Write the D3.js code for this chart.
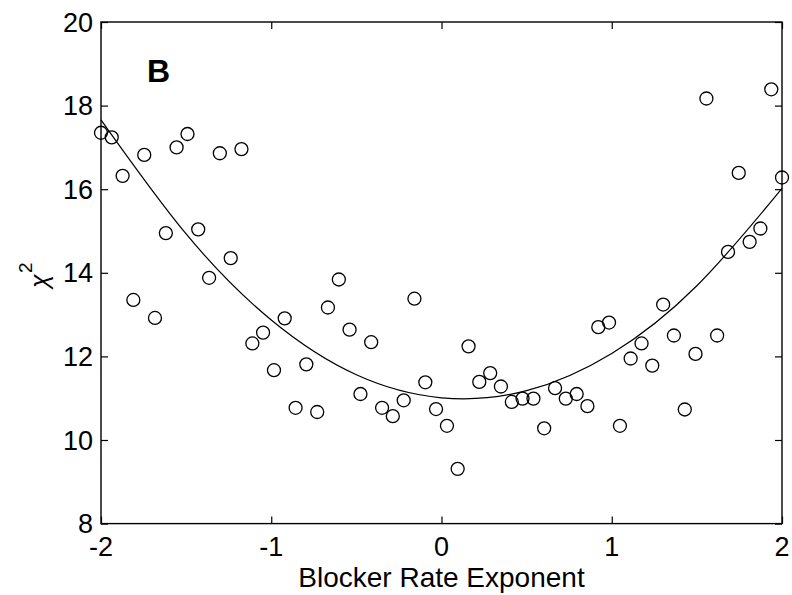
<!DOCTYPE html>
<html>
<head>
<meta charset="utf-8">
<script src="https://cdn.jsdelivr.net/npm/d3@7"></script>
<style>
  html, body { margin: 0; padding: 0; background: #fff; }
  svg { display: block; }
  text { font-family: Arial, "Liberation Sans", Helvetica, sans-serif; fill: #000; }
</style>
</head>
<body>
<svg id="chart" width="792" height="595"></svg>
<script>
// Blocker rate exponent (x) for each run
const exponents = [
  -2.000, -1.937, -1.873, -1.810, -1.746, -1.683, -1.619, -1.556,
  -1.492, -1.429, -1.365, -1.302, -1.238, -1.175, -1.111, -1.048,
  -0.984, -0.921, -0.857, -0.794, -0.730, -0.667, -0.603, -0.540,
  -0.476, -0.413, -0.349, -0.286, -0.222, -0.159, -0.095, -0.032,
   0.032,  0.095,  0.159,  0.222,  0.286,  0.349,  0.413,  0.476,
   0.540,  0.603,  0.667,  0.730,  0.794,  0.857,  0.921,  0.984,
   1.048,  1.111,  1.175,  1.238,  1.302,  1.365,  1.429,  1.492,
   1.556,  1.619,  1.683,  1.746,  1.810,  1.873,  1.937,  2.000
];

// chi-square value for each run
const chiSquare = [
  17.35, 17.24, 16.32, 13.35, 16.82, 12.92, 14.95, 17.00,
  17.32, 15.04, 13.88, 16.86, 14.35, 16.96, 12.31, 12.57,
  11.67, 12.91, 10.77, 11.81, 10.67, 13.17, 13.84, 12.64,
  11.10, 12.34, 10.77, 10.57, 10.95, 13.38, 11.38, 10.74,
  10.34,  9.31, 12.24, 11.39, 11.60, 11.28, 10.91, 10.99,
  10.99, 10.28, 11.24, 10.99, 11.10, 10.81, 12.70, 12.81,
  10.34, 11.95, 12.31, 11.78, 13.24, 12.50, 10.73, 12.06,
  18.17, 12.50, 14.50, 16.39, 14.74, 15.06, 18.39, 16.28
];

// Smooth trend line through the data
const trendX = [-2.0, -1.5, -1.0, -0.5, 0.0, 0.5, 1.0, 1.5, 2.0];
const trendY = [17.66, 14.93, 12.87, 11.56, 11.01, 11.18, 12.07, 13.69, 16.02];

const xTicks = [-2, -1, 0, 1, 2];
const yTicks = [8, 10, 12, 14, 16, 18, 20];

const svg = d3.select("#chart");
const plotLeft = 101, plotRight = 782, plotTop = 22, plotBottom = 523.6;

const x = d3.scaleLinear().domain([-2, 2]).range([plotLeft, plotRight]);
const y = d3.scaleLinear().domain([8, 20]).range([plotBottom, plotTop]);

const tickLen = 7;

// inward ticks on all four sides of the box
svg.append("g").attr("transform", `translate(0,${plotBottom})`)
  .call(d3.axisTop(x).tickValues(xTicks).tickSize(tickLen).tickFormat(""))
  .call(g => g.select(".domain").remove());
svg.append("g").attr("transform", `translate(0,${plotTop})`)
  .call(d3.axisBottom(x).tickValues(xTicks).tickSize(tickLen).tickFormat(""))
  .call(g => g.select(".domain").remove());
svg.append("g").attr("transform", `translate(${plotLeft},0)`)
  .call(d3.axisRight(y).tickValues(yTicks).tickSize(tickLen).tickFormat(""))
  .call(g => g.select(".domain").remove());
svg.append("g").attr("transform", `translate(${plotRight},0)`)
  .call(d3.axisLeft(y).tickValues(yTicks).tickSize(tickLen).tickFormat(""))
  .call(g => g.select(".domain").remove());
svg.selectAll(".tick line").attr("stroke", "#000").attr("stroke-width", 1.2);

// box
svg.append("rect")
  .attr("x", plotLeft).attr("y", plotTop)
  .attr("width", plotRight - plotLeft).attr("height", plotBottom - plotTop)
  .attr("fill", "none").attr("stroke", "#000").attr("stroke-width", 1.4);

// tick labels
svg.append("g").selectAll("text").data(xTicks).join("text")
  .attr("x", d => x(d)).attr("y", 556)
  .attr("text-anchor", "middle")
  .attr("font-size", 27)
  .text(d => d < 0 ? "-" + Math.abs(d) : d);

svg.append("g").selectAll("text").data(yTicks).join("text")
  .attr("x", 93).attr("y", d => y(d) + 9.5)
  .attr("text-anchor", "end")
  .attr("font-size", 27)
  .text(d => d);

// axis labels
svg.append("text")
  .attr("x", (plotLeft + plotRight) / 2).attr("y", 587)
  .attr("text-anchor", "middle")
  .attr("font-size", 28)
  .text("Blocker Rate Exponent");

svg.append("text")
  .attr("transform", "translate(48,288) rotate(-90)")
  .attr("font-size", 25)
  .attr("font-style", "italic")
  .attr("font-family", "'Liberation Serif', 'DejaVu Serif', serif")
  .text("χ");
svg.append("text")
  .attr("transform", "translate(32,273) rotate(-90)")
  .attr("font-size", 19)
  .text("2");

// panel letter
svg.append("text")
  .attr("x", 147).attr("y", 82)
  .attr("font-size", 32)
  .attr("font-weight", "bold")
  .text("B");

// trend line
const line = d3.line()
  .x((d, i) => x(trendX[i]))
  .y(d => y(d))
  .curve(d3.curveNatural);
svg.append("path")
  .datum(trendY)
  .attr("d", line)
  .attr("fill", "none")
  .attr("stroke", "#000")
  .attr("stroke-width", 1.2);

// data points
svg.append("g").selectAll("circle").data(chiSquare).join("circle")
  .attr("cx", (d, i) => x(exponents[i]))
  .attr("cy", d => y(d))
  .attr("r", 6.5)
  .attr("fill", "none")
  .attr("stroke", "#000")
  .attr("stroke-width", 1.3);
</script>
</body>
</html>
